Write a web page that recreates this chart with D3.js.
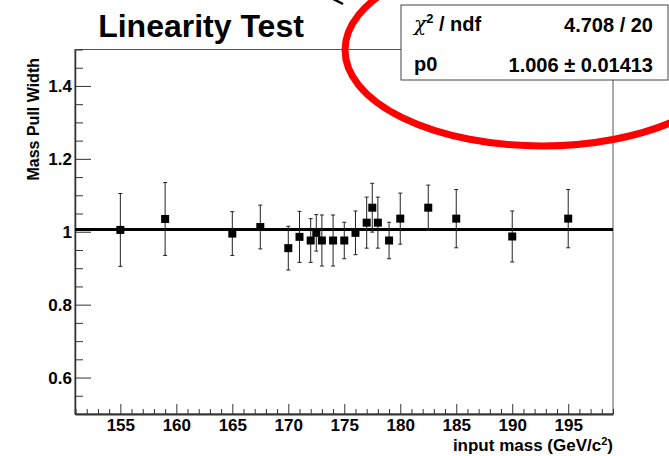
<!DOCTYPE html>
<html>
<head>
<meta charset="utf-8">
<script src="https://cdn.jsdelivr.net/npm/d3@7"></script>
<style>
  body { margin: 0; background: #fff; }
  svg { display: block; font-family: "Liberation Sans", Arial, sans-serif; font-weight: bold; }
  .axis path.domain { stroke: #333; }
  .axis line { stroke: #333; }
  .axis text { font-family: "Liberation Sans", Arial, sans-serif; font-weight: bold; fill: #000; }
</style>
</head>
<body>
<div id="chart"></div>
<script>
// DATA
var masses = [155, 159, 165, 167.5, 170, 171, 172, 172.5, 173, 174, 175, 176, 177, 177.5, 178, 179, 180, 182.5, 185, 190, 195];
var pullWidths = [1.005, 1.035, 0.995, 1.013, 0.955, 0.986, 0.976, 0.997, 0.976, 0.976, 0.976, 0.997, 1.025, 1.066, 1.025, 0.976, 1.036, 1.066, 1.036, 0.987, 1.036];
var pullErrors = [0.10, 0.10, 0.06, 0.06, 0.06, 0.07, 0.06, 0.05, 0.07, 0.07, 0.05, 0.06, 0.07, 0.067, 0.07, 0.05, 0.07, 0.062, 0.08, 0.07, 0.08];
var xMajorTicks = [155, 160, 165, 170, 175, 180, 185, 190, 195];
var yMajorTicks = [0.6, 0.8, 1, 1.2, 1.4];
var fitValue = 1.006;
var statRows = [["χ", "4.708 / 20"], ["p0", "1.006 ± 0.01413"]];

// sizes
var svgWidth = 669;
var svgHeight = 456;
var margin = { top: 49.5, right: 56, bottom: 42, left: 75 };
var width = svgWidth - margin.left - margin.right;
var height = svgHeight - margin.top - margin.bottom;

var svg = d3.select("#chart").append("svg")
    .attr("width", svgWidth)
    .attr("height", svgHeight);

var chartGroup = svg.append("g")
    .attr("transform", `translate(${margin.left}, ${margin.top})`);

// scales
var xScale = d3.scaleLinear().domain([150.95, 199]).range([0, width]);
var yScale = d3.scaleLinear().domain([0.5, 1.5]).range([height, 0]);

// frame
chartGroup.append("rect")
    .attr("width", width)
    .attr("height", height)
    .attr("fill", "none")
    .attr("stroke", "#555")
    .attr("stroke-width", 1);

// minor ticks
var xMinor = d3.range(151, 199.01, 1).filter(d => xMajorTicks.indexOf(d) < 0);
var yMinor = d3.range(0.5, 1.5001, 0.05).map(d => +d.toFixed(2)).filter(d => yMajorTicks.indexOf(d) < 0);

chartGroup.append("g")
    .attr("class", "axis")
    .attr("transform", `translate(0, ${height})`)
    .call(d3.axisBottom(xScale).tickValues(xMinor).tickSize(-5).tickFormat(""))
    .call(g => g.select(".domain").remove());

chartGroup.append("g")
    .attr("class", "axis")
    .call(d3.axisLeft(yScale).tickValues(yMinor).tickSize(-8).tickFormat(""))
    .call(g => g.select(".domain").remove());

// major axes
var xAxis = chartGroup.append("g")
    .attr("class", "axis")
    .attr("transform", `translate(0, ${height})`)
    .call(d3.axisBottom(xScale).tickValues(xMajorTicks).tickSize(-10).tickSizeOuter(0).tickPadding(5).tickFormat(d3.format("d")));
xAxis.select(".domain").attr("stroke-width", 2);
xAxis.selectAll("text").attr("font-size", 17);

var yAxis = chartGroup.append("g")
    .attr("class", "axis")
    .call(d3.axisLeft(yScale).tickValues(yMajorTicks).tickSize(-16).tickSizeOuter(0).tickPadding(3).tickFormat(d3.format("~g")));
yAxis.select(".domain").attr("stroke-width", 1.5);
yAxis.selectAll("text").attr("font-size", 17);

// fit line
chartGroup.append("line")
    .attr("x1", 0)
    .attr("x2", width)
    .attr("y1", yScale(fitValue))
    .attr("y2", yScale(fitValue))
    .attr("stroke", "#000")
    .attr("stroke-width", 3);

// error bars
var points = masses.map((m, i) => ({ m: m, v: pullWidths[i], e: pullErrors[i] }));

var bars = chartGroup.selectAll(".err")
    .data(points)
    .enter()
    .append("g")
    .attr("class", "err");

bars.append("line")
    .attr("x1", d => xScale(d.m))
    .attr("x2", d => xScale(d.m))
    .attr("y1", d => yScale(d.v - d.e))
    .attr("y2", d => yScale(d.v + d.e))
    .attr("stroke", "#222")
    .attr("stroke-width", 1);

[-1, 1].forEach(function (s) {
    bars.append("line")
        .attr("x1", d => xScale(d.m) - 2)
        .attr("x2", d => xScale(d.m) + 2)
        .attr("y1", d => yScale(d.v + s * d.e))
        .attr("y2", d => yScale(d.v + s * d.e))
        .attr("stroke", "#222")
        .attr("stroke-width", 1);
});

// markers
var r = 4;
chartGroup.selectAll(".marker")
    .data(points)
    .enter()
    .append("rect")
    .attr("class", "marker")
    .attr("x", d => xScale(d.m) - r)
    .attr("y", d => yScale(d.v) - r)
    .attr("width", 2 * r)
    .attr("height", 2 * r)
    .attr("fill", "#000");

// axis titles
var xTitle = svg.append("text")
    .attr("x", margin.left + width)
    .attr("y", 451)
    .attr("text-anchor", "end")
    .attr("font-size", 17);
xTitle.append("tspan").text("input mass (GeV/c");
xTitle.append("tspan").attr("dy", -6).attr("font-size", 11).text("2");
xTitle.append("tspan").attr("dy", 6).text(")");

svg.append("text")
    .attr("transform", `translate(39, 58) rotate(-90)`)
    .attr("text-anchor", "end")
    .attr("font-size", 16)
    .text("Mass Pull Width");

// title
svg.append("text")
    .attr("x", 201)
    .attr("y", 37)
    .attr("text-anchor", "middle")
    .attr("font-size", 32)
    .text("Linearity Test");

// stats box
var box = svg.append("g").attr("transform", "translate(401, 5)");
box.append("rect")
    .attr("width", 267)
    .attr("height", 75)
    .attr("fill", "#fff")
    .attr("stroke", "#444")
    .attr("stroke-width", 1);

var chiLabel = box.append("text").attr("x", 13).attr("y", 26).attr("font-size", 20);
chiLabel.append("tspan").attr("font-family", "DejaVu Serif, serif").attr("font-weight", "normal").attr("font-style", "italic").text(statRows[0][0]);
chiLabel.append("tspan").attr("dy", -8).attr("font-size", 13).text("2");
chiLabel.append("tspan").attr("dy", 8).text(" / ndf");

box.append("text").attr("x", 252).attr("y", 27).attr("text-anchor", "end").attr("font-size", 20).text(statRows[0][1]);
box.append("text").attr("x", 13).attr("y", 66).attr("font-size", 20).text(statRows[1][0]);
box.append("text").attr("x", 252).attr("y", 67).attr("text-anchor", "end").attr("font-size", 20).text(statRows[1][1]);

// red annotation ellipse
svg.append("ellipse")
    .attr("cx", 542)
    .attr("cy", 50)
    .attr("rx", 197)
    .attr("ry", 96)
    .attr("fill", "none")
    .attr("stroke", "#f00")
    .attr("stroke-width", 7);

// stray black stroke at the top
svg.append("line")
    .attr("x1", 333).attr("y1", -1)
    .attr("x2", 343).attr("y2", 4)
    .attr("stroke", "#000")
    .attr("stroke-width", 2.5);
</script>
</body>
</html>
